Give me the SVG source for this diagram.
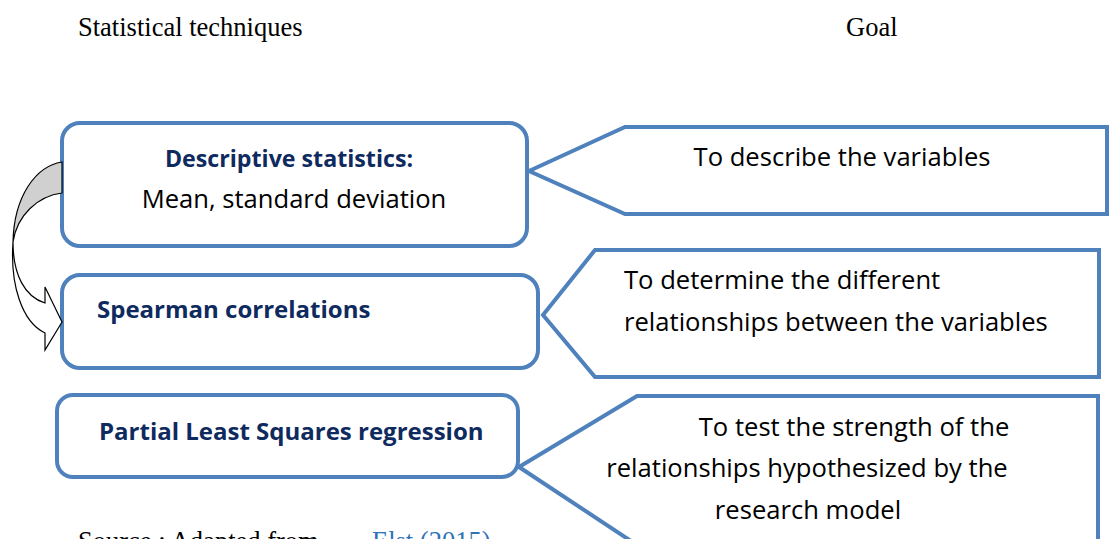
<svg xmlns="http://www.w3.org/2000/svg" width="1109" height="539" viewBox="0 0 1109 539">
<style>
.box{fill:#fff;stroke:#4F81BD;stroke-width:4}
.call{fill:#fff;stroke:#4F81BD;stroke-width:4;stroke-linejoin:miter}
.hd{font-family:"Open Sans","Noto Sans",sans-serif;font-weight:bold;font-size:24px;fill:#0E2A5E}
.tx{font-family:"Open Sans","Noto Sans",sans-serif;font-size:25.6px;fill:#000}
.sr{font-family:"Liberation Serif",serif;font-size:26.5px;fill:#000}
</style>
<rect width="1109" height="539" fill="#fff"/>
<text class="sr" x="78" y="36">Statistical techniques</text>
<text class="sr" x="846" y="36">Goal</text>

<g id="goal1">
<path class="call" d="M529,171 L625,127 L1107,127 L1107,214 L625,214 Z"/>
<text class="tx" x="842" y="166" text-anchor="middle">To describe the variables</text>
</g>
<g id="goal2">
<path class="call" d="M543,315 L595,250 L1099,250 L1099,377 L595,377 Z"/>
<text class="tx" x="624" y="289">To determine the different</text>
<text class="tx" x="624" y="331">relationships between the variables</text>
</g>
<g id="goal3">
<path class="call" d="M519,467 L637,396 L1098,396 L1098,545 L637,545 Z"/>
<text class="tx" x="854" y="436" text-anchor="middle">To test the strength of the</text>
<text class="tx" x="807" y="477" text-anchor="middle">relationships hypothesized by the</text>
<text class="tx" x="808" y="519" text-anchor="middle">research model</text>
</g>

<g id="node1">
<rect class="box" x="62" y="123" width="465" height="123" rx="18"/>
<text class="hd" x="289" y="167" text-anchor="middle" style="font-size:23.2px">Descriptive statistics:</text>
<text class="tx" x="294" y="208" text-anchor="middle">Mean, standard deviation</text>
</g>
<g id="node2">
<rect class="box" x="62" y="275" width="476" height="93" rx="18"/>
<text class="hd" x="97" y="318">Spearman correlations</text>
</g>
<g id="node3">
<rect class="box" x="57" y="395" width="461" height="82" rx="16"/>
<text class="hd" x="99" y="440">Partial Least Squares regression</text>
</g>

<g id="connectors">
<path d="M62,162 C36,166 14,196 13,242 C17,215 38,196 62,193 Z" fill="#D0D0D0" stroke="#000" stroke-width="1.2"/>
<path d="M13,242 C13,275 25,297 45,303 L45,287 L62,322 L45,350 L45,333 C22,322 10,285 13,242 Z" fill="#fff" stroke="#000" stroke-width="1.2"/>
</g>

<text class="sr" x="78" y="550">Source : Adapted from <tspan x="372" fill="#2E74B5">Elst (2015)</tspan></text>
</svg>
